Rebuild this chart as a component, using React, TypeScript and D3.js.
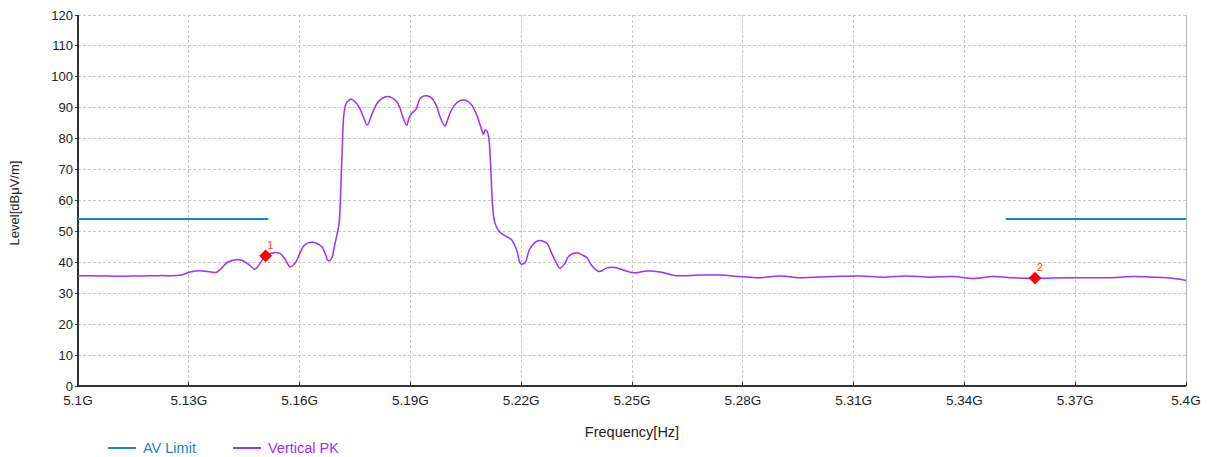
import React from "react";
import * as d3 from "d3";

// Frequency in MHz, level in dBµV/m
const traceFreq = [
  5100.0, 5105.96, 5111.37, 5116.79, 5122.2, 5127.62, 5130.33, 5133.03, 5135.2, 5137.55,
  5138.99, 5140.6, 5142.97, 5144.32, 5146.03, 5147.92, 5149.28, 5150.9, 5153.34, 5154.69,
  5156.05, 5157.4, 5158.75, 5160.11, 5161.0, 5162.27, 5163.71, 5164.98, 5165.98, 5166.87,
  5167.77, 5168.69, 5169.31, 5170.04, 5170.67, 5171.4, 5172.02, 5172.56, 5173.19, 5174.11,
  5175.46, 5176.35, 5177.25, 5178.33, 5179.52, 5180.42, 5181.31, 5182.31, 5183.75, 5185.02,
  5186.29, 5187.18, 5187.92, 5189.0, 5189.62, 5190.35, 5191.52, 5192.41, 5193.14, 5194.22,
  5195.31, 5196.2, 5197.2, 5198.02, 5199.37, 5200.05, 5200.72, 5201.81, 5202.97, 5204.33,
  5205.33, 5206.6, 5207.95, 5209.31, 5209.74, 5210.28, 5210.82, 5211.28, 5211.55, 5211.96,
  5212.28, 5212.91, 5214.26, 5216.07, 5217.43, 5218.78, 5219.86, 5221.03, 5222.38, 5224.63,
  5226.9, 5228.26, 5229.42, 5230.5, 5231.86, 5232.75, 5235.03, 5236.46, 5237.73, 5239.09,
  5241.15, 5243.15, 5245.4, 5247.65, 5250.35, 5253.98, 5257.58, 5261.64, 5268.41, 5273.83,
  5279.24, 5284.66, 5290.07, 5295.49, 5299.09, 5304.5, 5311.73, 5318.04, 5324.38, 5330.69,
  5337.0, 5342.41, 5347.83, 5353.24, 5359.12, 5364.07, 5371.3, 5378.53, 5385.74, 5391.15,
  5394.78, 5398.38, 5400.0,
];
const traceLevel = [
  35.7, 35.6, 35.5, 35.6, 35.7, 35.8, 36.9, 37.3, 37.0, 36.8,
  38.3, 40.1, 40.8, 40.7, 39.5, 37.8, 39.7, 42.1, 43.2, 42.9,
  41.1, 38.6, 39.7, 43.0, 45.1, 46.3, 46.5, 45.9, 45.1, 43.0,
  40.5, 41.3, 44.6, 48.5, 52.4, 72.0, 88.2, 91.2, 92.3, 92.7,
  91.4, 89.6, 87.1, 84.4, 87.7, 90.2, 92.0, 93.0, 93.6, 93.2,
  92.0, 89.9, 87.1, 84.4, 86.7, 88.2, 89.5, 92.5, 93.5, 93.9,
  93.5, 92.5, 90.2, 87.1, 84.1, 86.0, 88.2, 90.6, 92.0, 92.5,
  92.2, 90.9, 87.7, 82.8, 81.4, 82.8, 82.3, 79.6, 75.3, 65.0,
  58.0, 52.6, 49.7, 48.3, 47.2, 44.0, 39.5, 39.9, 44.5, 47.0,
  46.2, 42.9, 40.1, 38.1, 39.7, 41.8, 43.1, 42.4, 41.6, 39.0,
  37.0, 38.2, 38.3, 37.5, 36.6, 37.2, 36.9, 35.7, 35.9, 35.9,
  35.4, 35.0, 35.6, 35.0, 35.2, 35.4, 35.6, 35.2, 35.6, 35.2,
  35.4, 34.8, 35.4, 35.0, 34.8, 34.9, 35.0, 35.0, 35.4, 35.2,
  35.0, 34.5, 34.1,
];

const limitSegments = [
  { start: 5100, end: 5151.5, level: 54 },
  { start: 5351.2, end: 5400, level: 54 },
];

const markerNames = ["1", "2"];
const markerFreq = [5150.8, 5359.1];
const markerLevel = [42.1, 34.9];

const xTicks = [5100, 5130, 5160, 5190, 5220, 5250, 5280, 5310, 5340, 5370, 5400];
const xTickLabels = ["5.1G", "5.13G", "5.16G", "5.19G", "5.22G", "5.25G", "5.28G", "5.31G", "5.34G", "5.37G", "5.4G"];
const yTicks = [0, 10, 20, 30, 40, 50, 60, 70, 80, 90, 100, 110, 120];

const legendNames = ["AV Limit", "Vertical PK"];

export default function App() {
  const W = 1208;
  const H = 457;
  const left = 78;
  const right = 1186;
  const top = 15;
  const bottom = 386;
  const font = "'Liberation Sans', Arial, sans-serif";
  const limitColor = "#1a86c6";
  const traceColor = "#9b30ff";
  const textColor = "#222";

  const x = d3.scaleLinear().domain([5100, 5400]).range([left, right]);
  const y = d3.scaleLinear().domain([0, 120]).range([bottom, top]);

  const pts: [number, number][] = traceFreq.map((f, i) => [f, traceLevel[i]]);
  const line = d3
    .line<[number, number]>()
    .x((d) => x(d[0]))
    .y((d) => y(d[1]))
    .curve(d3.curveCatmullRom.alpha(0.5));

  const legendColors = [limitColor, traceColor];
  const legendX = [108, 233];

  return (
    <svg width={W} height={H} style={{ display: "block", position: "absolute", left: 0, top: 0, background: "#fff" }}>
      <rect x={0} y={0} width={W} height={H} fill="#fff" />
      {/* grid */}
      {yTicks.map((t) => (
        <line key={"gy" + t} x1={left} x2={right} y1={y(t)} y2={y(t)} stroke="#c8c8c8" strokeDasharray="3,2" strokeWidth={1} shapeRendering="crispEdges" />
      ))}
      {xTicks.map((t) => (
        <line key={"gx" + t} x1={x(t)} x2={x(t)} y1={top} y2={bottom} stroke="#c8c8c8" strokeDasharray="3,2" strokeWidth={1} shapeRendering="crispEdges" />
      ))}
      {/* right border */}
      <line x1={right} x2={right} y1={top} y2={bottom} stroke="#b4b4b4" strokeWidth={1} shapeRendering="crispEdges" />
      {/* axes */}
      <line x1={left} x2={left} y1={top} y2={bottom} stroke="#333" strokeWidth={1.5} shapeRendering="crispEdges" />
      <line x1={left} x2={right} y1={bottom} y2={bottom} stroke="#333" strokeWidth={1.5} shapeRendering="crispEdges" />
      {yTicks.map((t) => (
        <g key={"ty" + t}>
          <line x1={left - 3} x2={left} y1={y(t)} y2={y(t)} stroke="#333" strokeWidth={1} shapeRendering="crispEdges" />
          <text x={left - 5} y={y(t) + 4.5} textAnchor="end" fontFamily={font} fontSize={13} fill={textColor}>
            {t}
          </text>
        </g>
      ))}
      {xTicks.map((t, i) => (
        <g key={"tx" + t}>
          <line x1={x(t)} x2={x(t)} y1={bottom - 4} y2={bottom} stroke="#333" strokeWidth={1} shapeRendering="crispEdges" />
          <text x={x(t)} y={bottom + 19} textAnchor="middle" fontFamily={font} fontSize={13.5} fill={textColor}>
            {xTickLabels[i]}
          </text>
        </g>
      ))}
      <text x={632} y={437} textAnchor="middle" fontFamily={font} fontSize={14.5} fill={textColor}>
        Frequency[Hz]
      </text>
      <text transform={`translate(19,${203}) rotate(-90)`} textAnchor="middle" fontFamily={font} fontSize={13} fill={textColor}>
        Level[dBμV/m]
      </text>
      {/* limit lines */}
      {limitSegments.map((s, i) => (
        <line key={"lim" + i} x1={x(s.start)} x2={x(s.end)} y1={y(s.level)} y2={y(s.level)} stroke={limitColor} strokeWidth={2} />
      ))}
      {/* trace */}
      <path d={line(pts) || ""} fill="none" stroke={traceColor} strokeWidth={1.5} />
      {/* markers */}
      {markerFreq.map((f, i) => (
        <g key={"m" + i}>
          <rect x={x(f) - 4.5} y={y(markerLevel[i]) - 4.5} width={9} height={9} fill="#ff0000" transform={`rotate(45,${x(f)},${y(markerLevel[i])})`} />
          <text x={x(f) + 2} y={y(markerLevel[i]) - 7} fontFamily={font} fontSize={10.5} fill="#ff3030">
            {markerNames[i]}
          </text>
        </g>
      ))}
      {/* legend */}
      {legendNames.map((n, i) => (
        <g key={"lg" + i}>
          <line x1={legendX[i]} x2={legendX[i] + 28} y1={448} y2={448} stroke={legendColors[i]} strokeWidth={2} />
          <text x={legendX[i] + 35} y={453} fontFamily={font} fontSize={14.5} fill={legendColors[i]}>
            {n}
          </text>
        </g>
      ))}
    </svg>
  );
}
